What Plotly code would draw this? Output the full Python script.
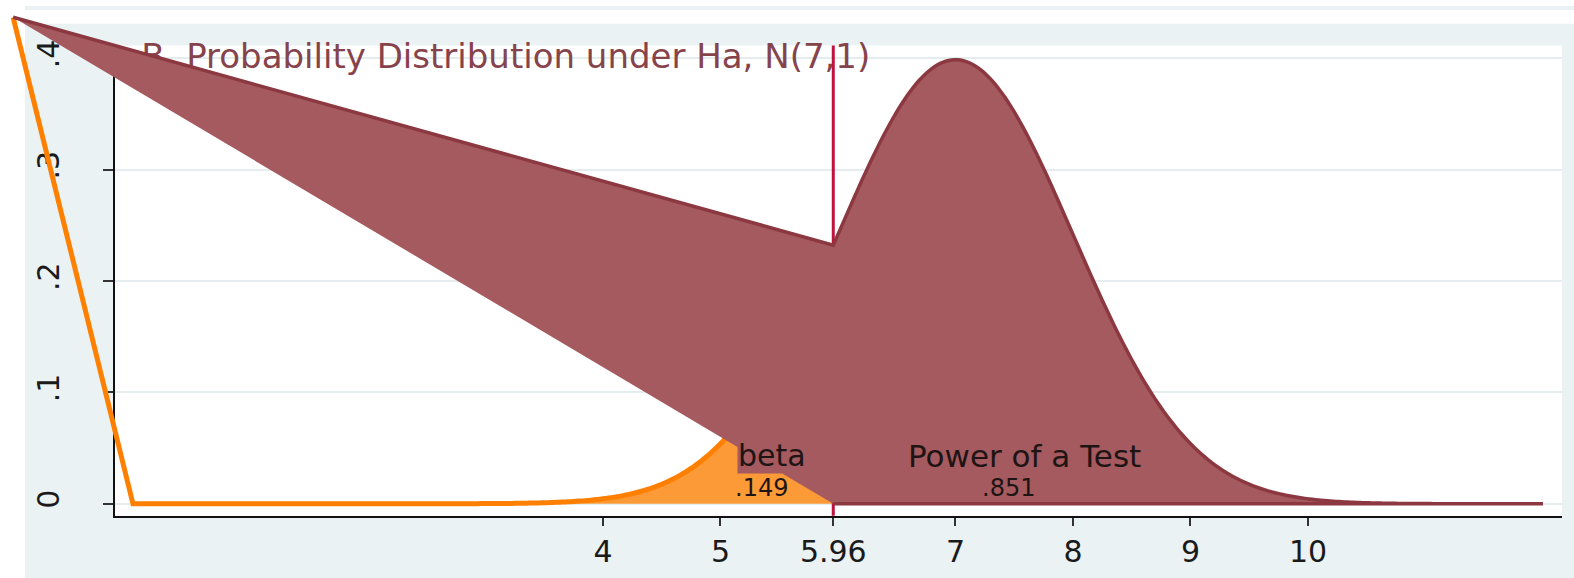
import numpy as np
import plotly.graph_objects as go

W, H = 1574, 578

# Alternative-hypothesis distribution N(7,1) and the test's critical value
MU_A, SD_A = 7.0, 1.0
CRIT = 5.96
X_MAX = 12.0
BETA_TEXT = ".149"
POWER_TEXT = ".851"

# stray first vertex shared by both shaded areas
STRAY_X, STRAY_Y = -1.02, 0.437

x_ticks = [4, 5, 5.96, 7, 8, 9, 10]
x_tick_text = ["4", "5", "5.96", "7", "8", "9", "10"]
y_ticks = [0, 0.1, 0.2, 0.3, 0.4]
y_tick_text = ["0", ".1", ".2", ".3", ".4"]

title_text = "B. Probability Distribution under Ha, N(7,1)"

BG = "#EAF2F3"
ORANGE_LINE = "#FF8000"
ORANGE_FILL = "#FD9A38"
BROWN_FILL = "#A45A5E"
BROWN_LINE = "#8C3840"
RED = "#C0123C"
FONT = "DejaVu Sans"


def density(x):
    return np.exp(-0.5 * ((x - MU_A) / SD_A) ** 2) / (SD_A * np.sqrt(2 * np.pi))


x_lo = np.linspace(0, CRIT, 241)
x_hi = np.linspace(CRIT, X_MAX, 241)
y_lo = density(x_lo)
y_hi = density(x_hi)

# plot region in pixels and its data ranges
PL, PR, PT, PB = 115, 1562, 40, 515
x_range = [-0.153, 12.162]
y_range = [-0.0107, 0.4116]

# a second, full-canvas axis pair on the same scale, so marks can run past the plot region
sx = (PR - PL) / (x_range[1] - x_range[0])
sy = (PB - PT) / (y_range[1] - y_range[0])
x2_range = [x_range[0] - PL / sx, x_range[1] + (W - PR) / sx]
y2_range = [y_range[0] - (H - PB) / sy, y_range[1] + PT / sy]

fig = go.Figure()

# subtitle sits underneath the shaded areas
fig.add_trace(go.Scatter(
    x=[0.07], y=[0.399], mode="text", text=[title_text],
    textposition="middle right", cliponaxis=False,
    textfont=dict(family=FONT, size=34, color="#86434C"),
    xaxis="x", yaxis="y", hoverinfo="skip"))

# beta region (orange)
fig.add_trace(go.Scatter(
    x=np.concatenate([x_lo, [CRIT]]), y=np.concatenate([y_lo, [0]]),
    fill="toself", fillcolor=ORANGE_FILL, mode="lines", line=dict(width=0, simplify=False),
    xaxis="x2", yaxis="y2", hoverinfo="skip"))
fig.add_trace(go.Scatter(
    x=np.concatenate([[STRAY_X, 0], x_lo]), y=np.concatenate([[STRAY_Y, 0], y_lo]),
    mode="lines", line=dict(color=ORANGE_LINE, width=5, simplify=False),
    xaxis="x2", yaxis="y2", hoverinfo="skip"))

# critical value line
fig.add_trace(go.Scatter(
    x=[CRIT, CRIT], y=y_range, mode="lines", line=dict(color=RED, width=3),
    xaxis="x2", yaxis="y2", hoverinfo="skip"))

# power region (brown)
bx = np.concatenate([[STRAY_X], x_hi, [X_MAX, CRIT]])
by = np.concatenate([[STRAY_Y], y_hi, [0, 0]])
fig.add_trace(go.Scatter(
    x=bx, y=by, fill="toself", fillcolor=BROWN_FILL, mode="lines",
    line=dict(width=0, simplify=False),
    xaxis="x2", yaxis="y2", hoverinfo="skip"))
fig.add_trace(go.Scatter(
    x=bx, y=by, mode="lines", line=dict(color=BROWN_LINE, width=3.5, simplify=False),
    xaxis="x2", yaxis="y2", hoverinfo="skip"))

# labels of the two regions
ann_font = dict(family=FONT, color="#1E1414")
fig.add_annotation(x=5.44, y=0.0435, xref="x", yref="y", text="beta", showarrow=False,
                   font=dict(size=30, **ann_font), bgcolor=BROWN_FILL, borderpad=0)
fig.add_annotation(x=5.35, y=0.0142, xref="x", yref="y", text=BETA_TEXT, showarrow=False,
                   font=dict(size=24, **ann_font))
fig.add_annotation(x=7.59, y=0.0427, xref="x", yref="y", text="Power of a Test", showarrow=False,
                   font=dict(size=31, **ann_font))
fig.add_annotation(x=7.45, y=0.0142, xref="x", yref="y", text=POWER_TEXT, showarrow=False,
                   font=dict(size=24, **ann_font))

# outer frame and white plot region
fig.add_shape(type="rect", xref="paper", yref="paper", x0=25 / W, x1=1, y0=0, y1=1 - 18 / H,
              fillcolor=BG, line=dict(width=0), layer="below")
fig.add_shape(type="rect", xref="paper", yref="paper", x0=25 / W, x1=1, y0=1 - 4 / H, y1=1,
              fillcolor=BG, line=dict(width=0), layer="below")
fig.add_shape(type="rect", xref="paper", yref="paper", x0=PL / W, x1=PR / W,
              y0=1 - PB / H, y1=1 - PT / H,
              fillcolor="white", line=dict(width=0), layer="below")

tick_font = dict(family=FONT, size=30, color="#1A1A1A")
fig.update_layout(
    width=W, height=H, autosize=False,
    margin=dict(l=0, r=0, t=0, b=0),
    paper_bgcolor="white", plot_bgcolor="rgba(0,0,0,0)",
    showlegend=False, hovermode=False,
    xaxis=dict(domain=[PL / W, PR / W], anchor="y", range=x_range,
               tickvals=x_ticks, ticktext=x_tick_text, tickfont=tick_font,
               ticks="outside", ticklen=8, tickwidth=1.5, tickcolor="#333",
               showline=True, linecolor="#111", linewidth=2, mirror=False,
               showgrid=False, zeroline=False, fixedrange=True),
    yaxis=dict(domain=[1 - PB / H, 1 - PT / H], anchor="x", range=y_range,
               tickvals=y_ticks, ticktext=y_tick_text, tickfont=tick_font,
               tickangle=-90, ticklabelstandoff=32,
               ticks="outside", ticklen=10, tickwidth=1.5, tickcolor="#333",
               showline=True, linecolor="#111", linewidth=2, mirror=False,
               showgrid=True, gridcolor="#E4ECED", gridwidth=2,
               zeroline=False, fixedrange=True),
    xaxis2=dict(domain=[0, 1], anchor="y2", range=x2_range, visible=False, fixedrange=True),
    yaxis2=dict(domain=[0, 1], anchor="x2", range=y2_range, visible=False, fixedrange=True),
)

fig.write_html("out.html")
